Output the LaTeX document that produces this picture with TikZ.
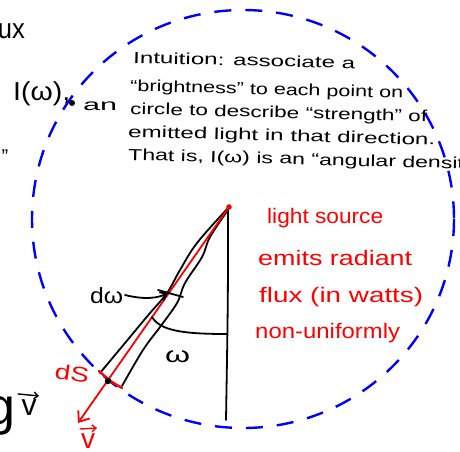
\documentclass[tikz,border=0pt]{standalone}
\usepackage{fontspec}
\setmainfont{Liberation Sans}
\usetikzlibrary{arrows.meta}
\newcommand{\hw}[2]{\resizebox{#1}{\height}{#2}}
\begin{document}
\begin{tikzpicture}[x=1pt,y=-1pt,
  ink/.style={line width=1.8pt, line cap=round, line join=round},
  blk/.style={ink, black},
  rd/.style={ink, red},
  vecarrow/.style={line width=1.4pt, line cap=round, -{Straight Barb[length=4pt,width=7pt]}},
  circ/.style={blue, line width=2.4pt, dash pattern=on 17pt off 14pt},
  txt/.style={inner sep=0pt, anchor=base west, font=\fontsize{16}{18}\selectfont},
  rtxt/.style={inner sep=0pt, anchor=base west, text=red, font=\fontsize{21}{22}\selectfont},
  big/.style={inner sep=0pt, font=\fontsize{26}{28}\selectfont},
]
\useasboundingbox (0,0) rectangle (460,451);
\clip (0,0) rectangle (460,451);
\fill[white] (0,0) rectangle (460,451);

% dashed circle
\draw[circ] (243,219) ellipse [x radius=211, y radius=209];

% key points
\coordinate (src) at (229,207);
\coordinate (tip) at (78,423);
\coordinate (dot) at (108,381);
\coordinate (vb) at (226,420);

% vertical axis
\draw[blk] (228,209) .. controls (228,300) .. (vb);

% cone
\draw[blk] plot[smooth, tension=0.6] coordinates {(228,208) (197,243) (180,270) (167,293) (150,313) (130,337) (100,373)};
\draw[blk] plot[smooth, tension=0.6] coordinates {(228,210) (210,237) (202,257) (185,283) (177,303) (160,327) (143,350) (122,386)};

% red ray
\draw[rd, -{Straight Barb[length=9pt,width=14pt]}] (src) -- (tip);
\fill[red] (src) circle (2.8);
\draw[rd, line width=2.4pt] (99,371) .. controls (110,381) .. (122,388);
\fill (dot) circle (3.2);

% d omega arrow and tick
\draw[blk, -{Straight Barb[length=6pt,width=9pt]}] (125,295) .. controls (145,300) and (158,298) .. (168,293);
\draw[blk] (158,290) -- (183,297);

% angle arc
\draw[blk] (152,317) .. controls (160,330) and (180,334) .. (227,334);

% labels
\node[txt, font=\fontsize{22}{22}\selectfont] (dw) at (90,303) {\hw{33pt}{dω}};
\node[txt, font=\fontsize{22}{22}\selectfont] (om) at (165,362) {\hw{25pt}{ω}};
\node[rtxt, rotate=-8] (ds) at (54,378) {\hw{34pt}{dS}};

\node[inner sep=0pt, text=red, anchor=base, font=\fontsize{28}{28}\selectfont] (vr) at (88,448) {v};
\draw[vecarrow, red] ([xshift=-8pt,yshift=4pt]vr.north) -- ([xshift=9pt,yshift=5pt]vr.north);
\node[inner sep=0pt, anchor=base, font=\fontsize{30}{30}\selectfont] (vk) at (29,415) {v};
\draw[vecarrow] ([xshift=-11pt,yshift=5pt]vk.north) -- ([xshift=10pt,yshift=3pt]vk.north);
\node[inner sep=0pt, anchor=base east, font=\fontsize{52}{52}\selectfont] (g) at (16,424) {g};

% red text
\node[rtxt] (r1) at (267,223) {\hw{116pt}{light source}};
\node[rtxt] (r2) at (258,265) {\hw{154pt}{emits radiant}};
\node[rtxt] (r3) at (259,302) {\hw{164pt}{flux (in watts)}};
\node[rtxt] (r4) at (255,338) {\hw{145pt}{non-uniformly}};

% black text block
\node[txt, rotate=-1.5] (l1) at (133,63) {\hw{222pt}{Intuition: associate a}};
\node[txt, rotate=-1.5] (l2) at (130,91) {\hw{273pt}{“brightness” to each point on}};
\node[txt, rotate=-1.5] (l3) at (130,114) {\hw{297pt}{circle to describe “strength” of}};
\node[txt, rotate=-1.5] (l4) at (128,137) {\hw{307pt}{emitted light in that direction.}};
\node[txt, rotate=-1.5] (l5) at (128,160) {\hw{355pt}{That is, I(ω) is an “angular density”}};

% left fragments
\node[big, anchor=base east, font=\fontsize{28}{28}\selectfont] (ux) at (25,38) {\hw{27pt}{ux}};
\node[big, anchor=base west] (iw) at (13,100) {\hw{57pt}{I(ω),}};
\fill (72,103) circle (3);
\node[txt, font=\fontsize{16}{16}\selectfont] (an) at (83,110) {\hw{34pt}{an}};
\node[txt, anchor=north, font=\fontsize{20}{20}\selectfont] (q) at (5,150) {”};
\end{tikzpicture}
\end{document}
